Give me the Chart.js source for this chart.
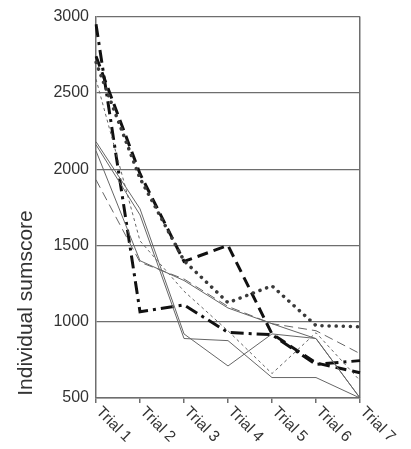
<!DOCTYPE html>
<html>
<head>
<meta charset="utf-8">
<script src="https://cdn.jsdelivr.net/npm/chart.js@4.4.1/dist/chart.umd.min.js"></script>
<style>
  html, body { margin: 0; padding: 0; background: #fff; }
  #wrap { width: 411px; height: 449px; }
</style>
</head>
<body>
<div id="wrap"><canvas id="chart" width="411" height="449"></canvas></div>
<script>
const trials = ['Trial 1', 'Trial 2', 'Trial 3', 'Trial 4', 'Trial 5', 'Trial 6', 'Trial 7']
const yTicks = [500, 1000, 1500, 2000, 2500, 3000]
const yTitle = 'Individual sumscore'

// one array per person
const dashDotThick = [2950, 1065, 1110, 930, 915, 720, 745]
const dashThick = [2740, 1970, 1395, 1500, 920, 730, 665]
const dotThick = [2700, 1940, 1400, 1125, 1235, 975, 967]
const solidA = [2180, 1740, 920, 710, 920, 890, 500]
const solidB = [2160, 1700, 890, 876, 634, 634, 500]
const solidC = [2120, 1400, 1270, 1090, 987, 889, 500]
const longDash = [1930, 1390, 1280, 1100, 987, 941, 791]
const shortDash = [2590, 1530, 1200, 940, 660, 928, 614]

const thin = '#666'
const line = (data, color, width, dash, cap) => ({
  data: data,
  borderColor: color,
  borderWidth: width,
  borderDash: dash,
  borderCapStyle: cap || 'butt',
  pointRadius: 0,
  tension: 0,
  fill: false
})

// x labels are slanted downwards, so draw them here with the x scale
const extraText = {
  id: 'extraText',
  afterDraw(chart) {
    const c = chart.ctx
    const xs = chart.scales.x
    c.save()
    c.fillStyle = '#333'
    c.font = '15.5px "Liberation Sans", Arial, sans-serif'
    c.textBaseline = 'top'
    c.textAlign = 'left'
    trials.forEach((t, i) => {
      const x = xs.getPixelForValue(i)
      c.save()
      c.translate(x + 8, xs.top + 6)
      c.rotate(Math.PI / 4)
      c.fillText(t, 0, 0)
      c.restore()
    })
    c.translate(32, 303)
    c.rotate(-Math.PI / 2)
    c.font = '21px "Liberation Sans", Arial, sans-serif'
    c.textAlign = 'center'
    c.textBaseline = 'alphabetic'
    c.fillText(yTitle, 0, 0)
    c.restore()
  }
}

new Chart(document.getElementById('chart'), {
  type: 'line',
  data: {
    labels: trials,
    datasets: [
      line(solidA, thin, 1, []),
      line(solidB, thin, 1, []),
      line(solidC, thin, 1, []),
      line(longDash, thin, 1, [9, 5]),
      line(shortDash, thin, 1, [3, 3]),
      line(dotThick, '#3a3a3a', 3.5, [0.1, 7], 'round'),
      line(dashThick, '#111', 3, [11, 6]),
      line(dashDotThick, '#111', 3, [13, 5, 3, 5])
    ]
  },
  options: {
    responsive: false,
    animation: false,
    layout: { padding: { left: 0, right: 51, top: 15, bottom: 0 } },
    plugins: { legend: { display: false }, tooltip: { enabled: false } },
    scales: {
      x: {
        offset: false,
        afterFit: s => { s.height = 51 },
        ticks: { display: false },
        border: { display: true, color: '#6e6e6e', width: 1.5 },
        grid: {
          color: c => c.index === trials.length - 1 ? '#6e6e6e' : 'rgba(0,0,0,0)',
          tickColor: '#6e6e6e',
          lineWidth: 1.5,
          tickLength: 5,
          drawTicks: true
        }
      },
      y: {
        min: yTicks[0],
        max: yTicks[yTicks.length - 1],
        afterFit: s => { s.width = 96 },
        afterBuildTicks: s => { s.ticks = yTicks.map(v => ({ value: v })) },
        ticks: {
          color: '#333',
          padding: 7,
          callback: v => String(v),
          font: { family: '"Liberation Sans", Arial, sans-serif', size: 16 }
        },
        border: { display: true, color: '#6e6e6e', width: 1.5 },
        grid: { color: '#6e6e6e', lineWidth: 1.2, drawTicks: false }
      }
    }
  },
  plugins: [extraText]
})
</script>
</body>
</html>
